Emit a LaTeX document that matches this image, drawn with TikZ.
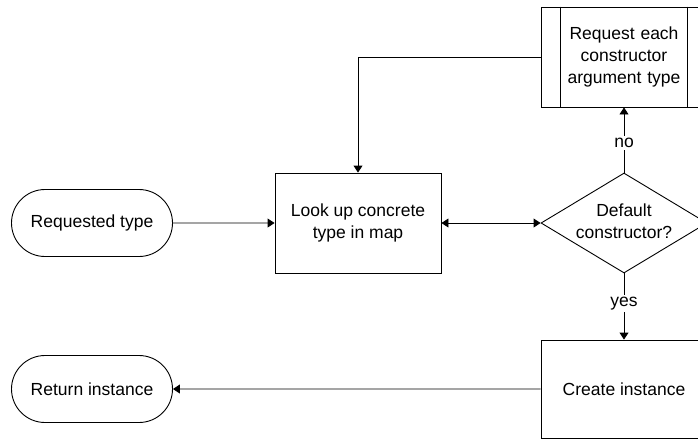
\documentclass[tikz,border=0pt]{standalone}
\usepackage{fontspec}
\setmainfont{Liberation Sans}
\usetikzlibrary{positioning,arrows.meta,shapes.geometric,shapes.misc}
\tikzset{
  >={Triangle[length=7pt,width=9pt]},
  every node/.style={font=\fontsize{17.5}{22}\selectfont,align=center},
  term/.style={draw,rounded rectangle,minimum width=165pt,minimum height=67pt,
    line width=0.9pt,inner sep=2pt},
  procbox/.style={draw,rectangle,minimum width=166pt,minimum height=100pt,
    line width=0.9pt,inner sep=2pt},
  predef/.style={procbox,text width=120pt},
  decide/.style={draw,diamond,minimum width=166pt,minimum height=100pt,
    line width=0.9pt,inner sep=0pt},
  flow/.style={->,line width=0.9pt},
  flowlbl/.style={fill=white,inner sep=2pt},
}
\begin{document}
\begin{tikzpicture}[x=1pt,y=-1pt]
  \useasboundingbox (0,0) rectangle (698,440);
  \clip (0,0) rectangle (698,440);
  \node[term] (reqtype) at (92,223) {Requested type};
  \node[procbox] (lookup) at (358,223) {Look up concrete\\type in map};
  \node[decide] (dflt) at (624,223) {};
  \node (dflttxt) at ([yshift=2pt]dflt.center) {Default\\constructor?};
  \node[predef] (reqargs) at (624,57) {Request each\\constructor\\argument type};
  \draw[line width=0.9pt] ([xshift=20pt]reqargs.north west) -- ([xshift=20pt]reqargs.south west)
    ([xshift=-20pt]reqargs.north east) -- ([xshift=-20pt]reqargs.south east);
  \node[procbox,minimum height=98pt] (create) at (624,389) {Create instance};
  \node[term] (ret) at (92,389) {Return instance};
  \draw[flow] (reqtype) -- (lookup);
  \draw[flow,<->] (lookup) -- (dflt);
  \draw[flow] (dflt) -- node[flowlbl,pos=0.45] {no} (reqargs);
  \draw[flow] (reqargs.west) -| (lookup.north);
  \draw[flow] (dflt) -- node[flowlbl,pos=0.45] {yes} (create);
  \draw[flow] (create) -- (ret);
\end{tikzpicture}
\end{document}
